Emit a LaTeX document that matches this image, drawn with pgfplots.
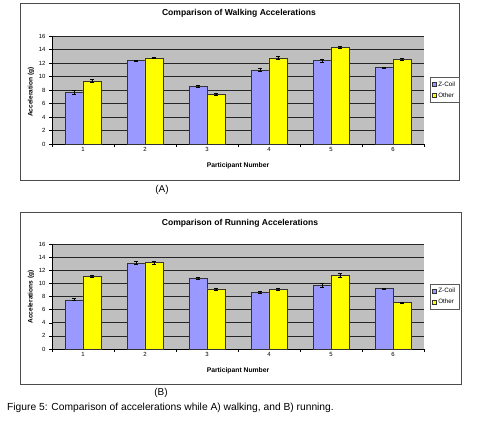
\documentclass[border=0pt]{standalone}
\usepackage{pgfplots}
\pgfplotsset{compat=1.18}
\usepackage{pgfplotstable}
\usepackage{fontspec}
\setmainfont{Liberation Sans}

\pgfplotstableread{
x z ze o oe
1 7.7 0.3 9.35 0.2
2 12.35 0.1 12.75 0.1
3 8.5 0.15 7.3 0.15
4 11.0 0.2 12.75 0.25
5 12.35 0.2 14.3 0.2
6 11.3 0.1 12.55 0.1
}\walk

\pgfplotstableread{
x z ze o oe
1 7.5 0.15 11.1 0.15
2 13.1 0.25 13.15 0.2
3 10.75 0.2 9.15 0.15
4 8.6 0.2 9.05 0.15
5 9.7 0.25 11.2 0.3
6 9.2 0.1 7.05 0.1
}\run

\definecolor{zcoil}{HTML}{9999FF}
\definecolor{other}{HTML}{FFFF00}

\pgfplotsset{
  accstyle/.style={
    scale only axis,
    width=372bp,
    xmin=0.5, xmax=6.5, ymin=0, ymax=16,
    ytick={0,2,...,16},
    xtick={0.5,1.5,...,6.5}, xticklabels={},
    extra x ticks={1,2,3,4,5,6},
    extra x tick labels={1,2,3,4,5,6},
    extra x tick style={major tick length=0pt, grid=none},
    ymajorgrids,
    grid style={black!85, line width=0.7pt},
    axis background/.style={fill=gray!50},
    axis x line*=bottom, axis y line*=left,
    axis line style={black, line width=0.6pt},
    tick align=outside, major tick length=2.5bp,
    tick style={black, line width=0.5pt},
    tick label style={font=\fontsize{6}{7}\selectfont},
    yticklabel style={xshift=-0.5bp},
    /pgf/number format/assume math mode=true,
    ybar=0pt, bar width=0.29,
    legend style={at={(1.016,0.5)}, anchor=west,
      font=\fontsize{6.3}{7.5}\selectfont, draw=gray!70!black,
      inner sep=1.8pt, row sep=1pt, legend cell align=left},
  },
  lim/.style={legend image code/.code={\draw[##1, line width=0.4pt] (0bp,-2bp) rectangle (4bp,2bp);}},
  zbar/.style={lim, fill=zcoil, draw=black!80, line width=0.5pt,
    error bars/.cd, y dir=both, y explicit,
    error bar style={black, line width=0.8pt},
    error mark options={rotate=90, mark size=2.2bp, line width=0.8pt, black}},
  obar/.style={lim, fill=other, draw=black!80, line width=0.5pt,
    error bars/.cd, y dir=both, y explicit,
    error bar style={black, line width=0.8pt},
    error mark options={rotate=90, mark size=2.2bp, line width=0.8pt, black}},
}

\begin{document}
\begin{tikzpicture}
\path[fill=white] (0,0) rectangle (480bp,-422bp);
% frames
\draw[gray!60!black, line width=0.8pt] (20bp,-3bp) rectangle (459bp,-180bp);
\draw[gray!60!black, line width=0.8pt] (20bp,-212bp) rectangle (461bp,-384bp);

% Chart A
\begin{axis}[accstyle, height=108bp, at={(52bp,-144bp)}, anchor=south west]
\addplot[zbar] table[x=x, y=z, y error=ze]{\walk};
\addplot[obar] table[x=x, y=o, y error=oe]{\walk};
\legend{Z-Coil, Other}
\end{axis}
\node[font=\bfseries\fontsize{8.6}{10}\selectfont] at (239bp,-13bp) {Comparison of Walking Accelerations};
\node[font=\bfseries\fontsize{6.8}{8}\selectfont] at (238bp,-166bp) {Participant Number};
\node[font=\bfseries\fontsize{6.6}{8}\selectfont, rotate=90] at (31bp,-92bp) {Acceleration (g)};
\node[font=\fontsize{10}{12}\selectfont] at (162bp,-190bp) {(A)};

% Chart B
\begin{axis}[accstyle, height=105bp, at={(52bp,-349bp)}, anchor=south west]
\addplot[zbar] table[x=x, y=z, y error=ze]{\run};
\addplot[obar] table[x=x, y=o, y error=oe]{\run};
\legend{Z-Coil, Other}
\end{axis}
\node[font=\bfseries\fontsize{8.6}{10}\selectfont] at (240bp,-223bp) {Comparison of Running Accelerations};
\node[font=\bfseries\fontsize{6.8}{8}\selectfont] at (238bp,-371bp) {Participant Number};
\node[font=\bfseries\fontsize{6.6}{8}\selectfont, rotate=90] at (31bp,-297bp) {Accelerations (g)};
\node[font=\fontsize{10}{12}\selectfont] at (161bp,-393bp) {(B)};

\node[font=\fontsize{10.3}{12}\selectfont, anchor=west, inner sep=0pt] at (7bp,-408bp) {Figure 5: Comparison of accelerations while A) walking, and B) running.};
\end{tikzpicture}
\end{document}
